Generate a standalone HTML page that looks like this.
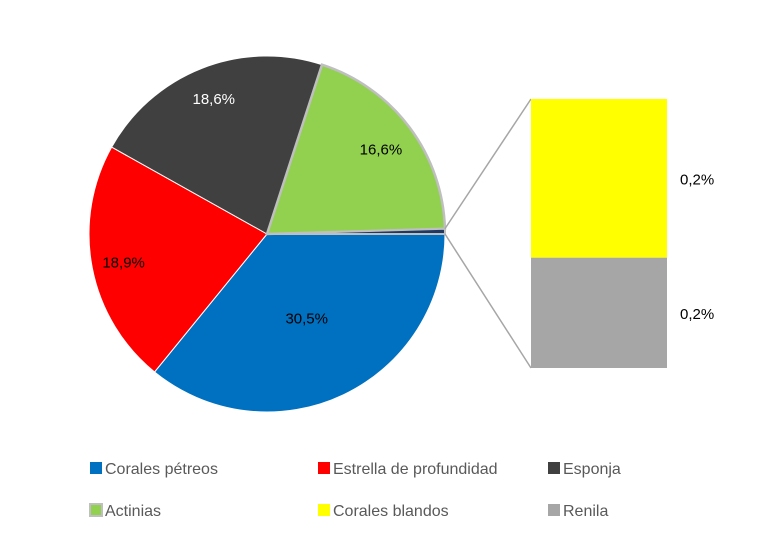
<!DOCTYPE html>
<html><head><meta charset="utf-8"><style>
body{margin:0;background:#fff;width:765px;height:546px;overflow:hidden;font-family:"Liberation Sans",sans-serif}
</style></head><body>
<svg id="chart" width="765" height="546" xmlns="http://www.w3.org/2000/svg"></svg>
<script>
const pieCategories = ["Corales pétreos","Estrella de profundidad","Esponja","Actinias"];
const pieValues = [30.5, 18.9, 18.6, 16.6];
const pieColors = ["#0070c0","#ff0000","#404040","#92d050"];
const barCategories = ["Corales blandos","Renila"];
const barValues = [0.236, 0.164];
const barLabels = ["0,2%","0,2%"];
const pieLabels = ["30,5%","18,9%","18,6%","16,6%"];
const barColors = ["#ffff00","#a6a6a6"];

const svg = document.getElementById('chart');
const NS = "http://www.w3.org/2000/svg";
function mk(tag, attrs){const e=document.createElementNS(NS,tag);for(const k in attrs)e.setAttribute(k,attrs[k]);svg.appendChild(e);return e;}
const cx=267, cy=234, r=178;
const otherVal = barValues.reduce((a,b)=>a+b,0);
const total = pieValues.reduce((a,b)=>a+b,0)+otherVal;
function pt(a,rr){return [cx+rr*Math.cos(a), cy+rr*Math.sin(a)];}
function arc(a0,a1){const p0=pt(a0,r),p1=pt(a1,r);const large=(a1-a0)>Math.PI?1:0;
 return `M${cx},${cy} L${p0[0]},${p0[1]} A${r},${r} 0 ${large} 1 ${p1[0]},${p1[1]} Z`;}
let a=0;
const labelPos=[0.52,0.82,0.82,0.8];
pieValues.forEach((v,i)=>{
  const a1=a+v/total*2*Math.PI;
  const p=mk('path',{d:arc(a,a1),fill:pieColors[i],stroke:i===3?'#bfbfbf':'#ffffff','stroke-width':i===3?2.5:1});
  
  
  const m=(a+a1)/2; const lp=pt(m,r*labelPos[i]);
  const t=mk('text',{x:lp[0],y:lp[1]+6,'text-anchor':'middle','font-size':'15',fill:(i===2)?'#ffffff':'#000000'});
  t.textContent=pieLabels[i];
  
  
  a=a1;
});
const oa0=a, oa1=2*Math.PI;
const op=mk('path',{d:arc(oa0,oa1),fill:'#1f3864',stroke:'#bfbfbf','stroke-width':2});


const bx=531,bw=136,btop=99,bh=269;
const pA=pt(oa0,r), pB=pt(oa1,r);
const l1=mk('line',{x1:pA[0],y1:pA[1],x2:bx,y2:btop,stroke:'#a6a6a6','stroke-width':1.5});


const l2=mk('line',{x1:pB[0],y1:pB[1],x2:bx,y2:btop+bh,stroke:'#a6a6a6','stroke-width':1.5});


let y=btop;
barValues.forEach((v,i)=>{
  const h=v/otherVal*bh;
  const rc=mk('rect',{x:bx,y:y,width:bw,height:h,fill:barColors[i]});
  
  
  const t=mk('text',{x:680,y:y+h/2+6,'font-size':'15',fill:'#000'});
  t.textContent=barLabels[i];
  
  
  y+=h;
});
const legNames=pieCategories.concat(barCategories);
const legColors=pieColors.concat(barColors);
const order=[0,1,2,3,4,5];
const lx=[90,318,548], ly=[468,510];
order.forEach((k,i)=>{
  const x=lx[i%3], yy=ly[Math.floor(i/3)];
  const g=document.createElementNS(NS,'g');svg.appendChild(g);
  
  
  const s=document.createElementNS(NS,'rect');
  s.setAttribute('x',x);s.setAttribute('y',yy-6);s.setAttribute('width',12);s.setAttribute('height',12);
  s.setAttribute('fill',legColors[k]);
  if(k===3){s.setAttribute('stroke','#bfbfbf');s.setAttribute('stroke-width',2);}
  g.appendChild(s);
  const t=document.createElementNS(NS,'text');
  t.setAttribute('x',x+15);t.setAttribute('y',yy+6);t.setAttribute('font-size','16');t.setAttribute('fill','#595959');
  t.textContent=legNames[k];g.appendChild(t);
});
</script>
</body></html>
